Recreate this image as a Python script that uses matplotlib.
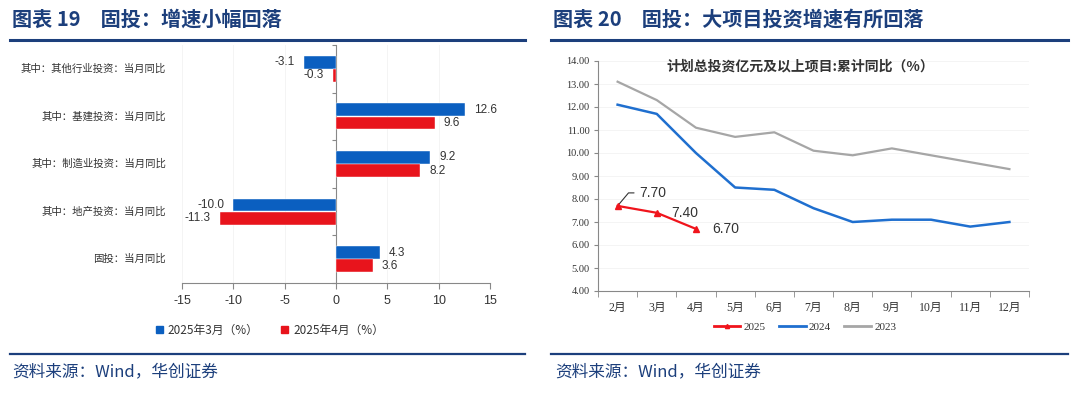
import matplotlib
matplotlib.use("Agg")
import matplotlib.pyplot as plt
from matplotlib.patches import Patch
from matplotlib.lines import Line2D

plt.rcParams['font.family'] = ['Noto Sans CJK SC', 'DejaVu Sans']

# ---------------- data ----------------
categories = ["固投：当月同比", "其中：地产投资：当月同比", "其中：制造业投资：当月同比",
              "其中：基建投资：当月同比", "其中：其他行业投资：当月同比"]
mar_2025 = [4.3, -10.0, 9.2, 12.6, -3.1]
apr_2025 = [3.6, -11.3, 8.2, 9.6, -0.3]
bar_labels = ["2025年3月（%）", "2025年4月（%）"]

months = ["2月", "3月", "4月", "5月", "6月", "7月", "8月", "9月", "10月", "11月", "12月"]
y2025 = [7.7, 7.4, 6.7]
y2024 = [12.1, 11.7, 10.0, 8.5, 8.4, 7.6, 7.0, 7.1, 7.1, 6.8, 7.0]
y2023 = [13.1, 12.3, 11.1, 10.7, 10.9, 10.1, 9.9, 10.2, 9.9, 9.6, 9.3]
yticks_right = [4, 5, 6, 7, 8, 9, 10, 11, 12, 13, 14]

W, H = 1080, 398
fig = plt.figure(figsize=(W / 100, H / 100), dpi=100)
fig.patch.set_facecolor("white")

def fx(p): return p / W
def fy(p): return 1 - p / H

NAVY = "#1c3f7c"
BLUE = "#0b5fc0"
RED = "#e8141c"
TXT = "#333333"

# ---------- headers / footers ----------
fig.text(fx(12), fy(19), "图表 19　固投：增速小幅回落", fontsize=14.5, fontweight="bold",
         color=NAVY, ha="left", va="center")
fig.text(fx(553), fy(19), "图表 20　固投：大项目投资增速有所回落", fontsize=14.5, fontweight="bold",
         color=NAVY, ha="left", va="center")
for x0, x1 in [(10, 525), (551, 1068)]:
    fig.add_artist(Line2D([fx(x0), fx(x1)], [fy(40), fy(40)], color=NAVY, lw=2.2))
    fig.add_artist(Line2D([fx(x0), fx(x1)], [fy(354), fy(354)], color=NAVY, lw=1.6))
fig.text(fx(12), fy(372), "资料来源：Wind，华创证券", fontsize=12, color=NAVY,
         ha="left", va="center", style="italic")
fig.text(fx(555), fy(372), "资料来源：Wind，华创证券", fontsize=12, color=NAVY,
         ha="left", va="center", style="italic")

# ---------------- left: bar chart ----------------
ax = fig.add_axes([fx(182), fy(283), (490 - 182) / W, (283 - 45) / H])
ypos = list(range(len(categories)))
bh = 0.27
off = 0.14
ax.barh([y + off for y in ypos], mar_2025, height=bh, color=BLUE, edgecolor="white", lw=0.3, zorder=3)
ax.barh([y - off for y in ypos], apr_2025, height=bh, color=RED, edgecolor="white", lw=0.3, zorder=3)
ax.set_xlim(-15, 15)
ax.set_ylim(-0.5, 4.5)
ax.set_xticks([-15, -10, -5, 0, 5, 10, 15])
ax.set_xticklabels(["-15", "-10", "-5", "0", "5", "10", "15"], fontsize=9, color=TXT,
                   family=["Liberation Sans", "DejaVu Sans"])
ax.tick_params(axis="x", length=4, color="#888888", pad=5)
for s in ["top", "right"]:
    ax.spines[s].set_visible(False)
ax.spines["bottom"].set_color("#888888")
ax.spines["left"].set_position(("data", 0))
ax.spines["left"].set_color("#888888")
ax.set_yticks([-0.5, 0.5, 1.5, 2.5, 3.5, 4.5])
ax.set_yticklabels([])
ax.tick_params(axis="y", length=3, color="#888888")
ax.grid(axis="x", color="#f2f2f2", lw=0.6, zorder=0)
ax.set_axisbelow(True)
for y, lab in zip(ypos, categories):
    ax.annotate(lab, xy=(0, y), xycoords=("axes fraction", "data"), xytext=(-16, 0),
                textcoords="offset pixels", ha="right", va="center", fontsize=7.5, color=TXT)

def vlabel(v, y):
    ha = "left" if v >= 0 else "right"
    dx = 9 if v >= 0 else -9
    ax.annotate(f"{v:.1f}", xy=(v, y), xytext=(dx, 0), textcoords="offset pixels",
                ha=ha, va="center", fontsize=8.5, color=TXT, family=["Liberation Sans", "DejaVu Sans"])

for y, v in zip(ypos, mar_2025):
    vlabel(v, y + off)
for y, v in zip(ypos, apr_2025):
    vlabel(v, y - off)

handles = [Patch(color=BLUE), Patch(color=RED)]
fig.legend(handles, bar_labels, loc="center", bbox_to_anchor=(fx(270), fy(330)), ncol=2,
           frameon=False, fontsize=8.5, handlelength=0.6, handleheight=0.6, handletextpad=0.4,
           columnspacing=1.9, labelcolor=TXT)

# ---------------- right: line chart ----------------
ax2 = fig.add_axes([fx(598), fy(291), (1029 - 598) / W, (291 - 61) / H])
x = list(range(len(months)))
ax2.plot(x, y2023, color="#a6a6a6", lw=1.6, zorder=3, label="2023")
ax2.plot(x, y2024, color="#1f6fcf", lw=1.8, zorder=4, label="2024")
ax2.plot(x[:len(y2025)], y2025, color="#f0141c", lw=1.6, marker="^", ms=4, zorder=5, label="2025")
ax2.set_xlim(-0.5, len(months) - 0.5)
ax2.set_ylim(4, 14)
ax2.set_yticks(yticks_right)
ax2.set_yticklabels([f"{v:.2f}" for v in yticks_right], fontsize=7.5, color=TXT,
                    family=["Liberation Serif", "DejaVu Serif"])
ax2.set_xticks(x)
ax2.set_xticklabels(months, fontsize=8.5, color=TXT, family=["Liberation Serif", "Noto Sans CJK SC"])
ax2.set_xticks([i + 0.5 for i in range(-1, len(months))], minor=True)
ax2.tick_params(axis="x", which="major", length=0, pad=8)
ax2.tick_params(axis="x", which="minor", length=4, color="#888888")
ax2.tick_params(axis="y", length=3, color="#888888", pad=3)
for s in ["top", "right"]:
    ax2.spines[s].set_visible(False)
ax2.spines["left"].set_color("#888888")
ax2.spines["bottom"].set_color("#888888")
ax2.grid(axis="y", color="#f2f2f2", lw=0.6, zorder=0)
ax2.set_axisbelow(True)

ax2.text(0.47, (291 - 66) / 230, "计划总投资亿元及以上项目:累计同比（%）", transform=ax2.transAxes,
         ha="center", va="center", fontsize=10, fontweight="bold", color=TXT)

ax2.annotate(f"{y2025[0]:.2f}", xy=(0, y2025[0]), xytext=(22, 13), textcoords="offset pixels",
             ha="left", va="center", fontsize=10, color=TXT, family=["Liberation Sans", "DejaVu Sans"],
             arrowprops=dict(arrowstyle="-", color="#333333", lw=0.8, shrinkA=2, shrinkB=1,
                             relpos=(0, 0.5), connectionstyle="angle,angleA=0,angleB=50,rad=0"))
ax2.annotate(f"{y2025[1]:.2f}", xy=(1, y2025[1]), xytext=(14, 0), textcoords="offset pixels",
             ha="left", va="center", fontsize=10, color=TXT, family=["Liberation Sans", "DejaVu Sans"])
ax2.annotate(f"{y2025[2]:.2f}", xy=(2, y2025[2]), xytext=(16, 0), textcoords="offset pixels",
             ha="left", va="center", fontsize=10, color=TXT, family=["Liberation Sans", "DejaVu Sans"])

h = [Line2D([], [], color="#f0141c", lw=2, marker="^", ms=3),
     Line2D([], [], color="#1f6fcf", lw=2),
     Line2D([], [], color="#a6a6a6", lw=2)]
fig.legend(h, ["2025", "2024", "2023"], loc="center", bbox_to_anchor=(fx(805), fy(327)), ncol=3,
           frameon=False, handlelength=2.4, handletextpad=0.3, columnspacing=1.2,
           labelcolor=TXT, prop={"family": ["Liberation Serif", "DejaVu Serif"], "size": 8})

fig.savefig("out.png", dpi=100, facecolor="white")
